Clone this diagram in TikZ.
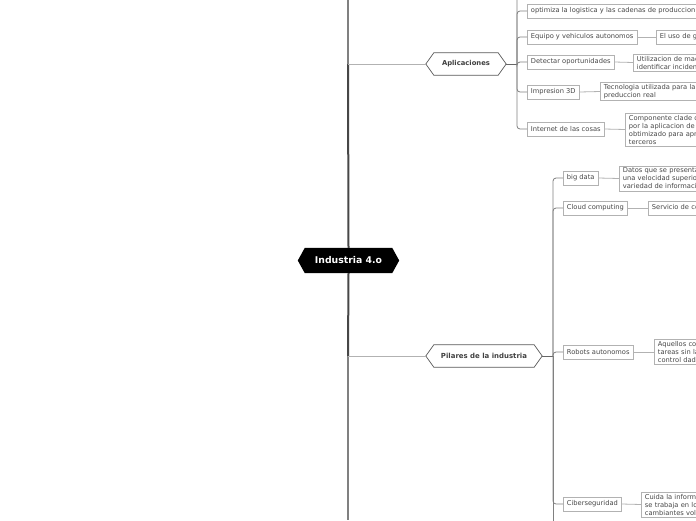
\documentclass[tikz,border=0pt]{standalone}
\usepackage{fontspec}
\setmainfont{DejaVu Sans}
\begin{document}
\begin{tikzpicture}[x=1pt,y=-1pt,
  leaf/.style={draw=black!30, fill=white, text=black!72, font=\fontsize{6.7}{8}\selectfont,
    inner xsep=3.6pt, inner ysep=2pt, minimum height=14pt, anchor=west, align=left, line width=0.6pt},
  wide/.style={text width=#1, align=left},
  hexin/.style={inner sep=0pt, font=\fontsize{6.8}{8}\selectfont\bfseries},
  rootfont/.style={font=\fontsize{9.3}{11}\selectfont\bfseries},
  conn/.style={draw=black!30, line width=0.8pt},
  brk/.style={draw=black!50, line width=0.8pt, rounded corners=3pt},
  trunk/.style={draw=black!72, line width=2pt},
  trunkthin/.style={draw=black!50, line width=1.2pt}
]
\useasboundingbox (0,0) rectangle (696,520);
\clip (0,0) rectangle (696,520);
\fill[white] (0,0) rectangle (696,520);

% coordinates of the trunk
\coordinate (topEnd) at (348,0);
\coordinate (j1) at (348,64);
\coordinate (j2) at (348,356);
\coordinate (botEnd) at (348,520);

% root
\node[hexin, rootfont, minimum width=87pt, minimum height=25pt, text=white] (root) at (348.5,260.5) {Industria 4.o};
\fill[black] (root.north west) -- (root.north east) -- ([xshift=7pt]root.east) -- (root.south east) -- (root.south west) -- ([xshift=-7pt]root.west) -- cycle;
\node[hexin, rootfont, minimum width=87pt, minimum height=25pt, text=white] at (root) {Industria 4.o};

% main branches
\node[hexin, minimum width=64pt, minimum height=22pt, text=black!75] (apl) at (466,64) {Aplicaciones};
\draw[draw=black!65, line width=0.7pt, fill=white] (apl.north west) -- (apl.north east) -- ([xshift=8pt]apl.east) -- (apl.south east) -- (apl.south west) -- ([xshift=-8pt]apl.west) -- cycle;
\node[hexin, minimum width=64pt, minimum height=22pt, text=black!75] at (apl) {Aplicaciones};
\coordinate (aplL) at (426,64);
\coordinate (aplR) at (506,64);

\node[hexin, minimum width=100pt, minimum height=22pt, text=black!75, font=\fontsize{6.95}{8}\selectfont\bfseries] (pil) at (484,356) {Pilares de la industria};
\draw[draw=black!65, line width=0.7pt, fill=white] (pil.north west) -- (pil.north east) -- ([xshift=8pt]pil.east) -- (pil.south east) -- (pil.south west) -- ([xshift=-8pt]pil.west) -- cycle;
\node[hexin, minimum width=100pt, minimum height=22pt, text=black!75, font=\fontsize{6.95}{8}\selectfont\bfseries] at (pil) {Pilares de la industria};
\coordinate (pilL) at (426,356);
\coordinate (pilR) at (542,356);

% trunk
\draw[trunkthin] (topEnd) -- (j1);
\draw[trunk] (j1) -- (root.north);
\draw[trunk] (root.south) -- (j2);
\draw[trunkthin] (j2) -- (botEnd);
\draw[conn] (j1) -- (aplL);
\draw[conn] (j2) -- (pilL);

% Aplicaciones children
\node[leaf] (opt) at (527,11) {optimiza la logistica y las cadenas de produccion};
\node[leaf] (equ) at (527,37) {Equipo y vehiculos autonomos};
\node[leaf] (det) at (527,62) {Detectar oportunidades};
\node[leaf] (imp) at (527,92) {Impresion 3D};
\node[leaf] (iot) at (527,129) {Internet de las cosas};

\node[leaf, wide=100pt] (g1) at (656,37) {El uso de gps};
\node[leaf, wide=120pt] (g2) at (633,62.5) {Utilizacion de maquinas\\identificar incidentes};
\node[leaf, wide=130pt] (g3) at (600,91.5) {Tecnologia utilizada para la\\preduccion real};
\node[leaf, wide=120pt] (g4) at (625,129.5) {Componente clade de\\por la aplicacion de la\\obtimizado para aprovechar\\terceros};

\coordinate (ab) at (517,64);
\coordinate (abTop) at (517,0);
\coordinate (optR) at (697,11);
\draw[black!60, line width=1pt] (aplR) -- (ab);
\draw[brk] (abTop) |- (iot.west);
\draw[brk] (ab) |- (opt.west);
\draw[brk] (ab) |- (equ.west);
\draw[brk] (ab) |- (det.west);
\draw[brk] (ab) |- (imp.west);
\draw[conn] (opt.east) -- (optR);
\draw[conn] (equ.east) -- (g1.west);
\draw[conn] (det.east) -- (g2.west);
\draw[conn] (imp.east) -- (g3.west);
\draw[conn] (iot.east) -- (g4.west);

% Pilares children
\node[leaf] (bd) at (563,178) {big data};
\node[leaf] (cc) at (563,208) {Cloud computing};
\node[leaf] (ro) at (563,352) {Robots autonomos};
\node[leaf] (ci) at (563,504) {Ciberseguridad};

\node[leaf, wide=120pt] (h1) at (619,178.5) {Datos que se presentan en\\una velocidad superior\\variedad de informacion};
\node[leaf, wide=100pt] (h2) at (648,208) {Servicio de computo};
\node[leaf, wide=100pt] (h3) at (654,352) {Aquellos con\\tareas sin la\\control dado};
\node[leaf, wide=120pt] (h4) at (641,504.5) {Cuida la informacion\\se trabaja en los\\cambiantes volumenes};

\coordinate (pb) at (553,356);
\coordinate (pbBot) at (553,521);
\draw[black!60, line width=1pt] (pilR) -- (pb);
\draw[brk] (pb) |- (bd.west);
\draw[brk] (pb) |- (cc.west);
\draw[brk] (pb) |- (ro.west);
\draw[brk] (pb) |- (ci.west);
\draw[brk] (pb) -- (pbBot);
\draw[conn] (bd.east) -- (h1.west);
\draw[conn] (cc.east) -- (h2.west);
\draw[conn] (ro.east) -- (h3.west);
\draw[conn] (ci.east) -- (h4.west);
\end{tikzpicture}
\end{document}
